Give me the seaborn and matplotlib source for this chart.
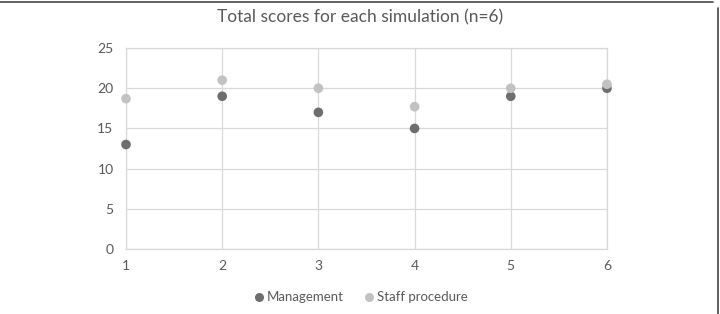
import pandas as pd
import matplotlib
matplotlib.use("Agg")
import matplotlib.pyplot as plt
from matplotlib.lines import Line2D
import seaborn as sns

# Data
simulation = [1, 2, 3, 4, 5, 6]
management = [13, 19, 17, 15, 19, 20]
staff_procedure = [18.7, 21, 20, 17.7, 20, 20.5]

df = pd.DataFrame({
    "Simulation": simulation * 2,
    "Score": management + staff_procedure,
    "Group": ["Management"] * len(simulation) + ["Staff procedure"] * len(simulation),
})

sns.set_style("white")
plt.rcParams["font.family"] = ["Lato", "DejaVu Sans"]

text_col = "#595959"
grid_col = "#d9d9d9"

fig = plt.figure(figsize=(7.2, 3.14), dpi=100)
ax = fig.add_axes([0.175, 0.207, 0.668, 0.640])

sns.scatterplot(data=df, x="Simulation", y="Score", hue="Group",
                palette={"Management": "#6e6e6e", "Staff procedure": "#c2c2c2"},
                s=48, edgecolor="none", ax=ax, zorder=3, legend=False)

ax.set_xlim(1, 6)
ax.set_ylim(0, 25)
ax.set_xticks(simulation)
ax.set_yticks([0, 5, 10, 15, 20, 25])
ax.grid(True, color=grid_col, linewidth=0.9)
ax.set_axisbelow(True)
for sp in ax.spines.values():
    sp.set_color(grid_col)
    sp.set_linewidth(0.9)
ax.tick_params(axis="both", length=0, labelsize=10, colors=text_col)
ax.tick_params(axis="y", pad=9)
ax.tick_params(axis="x", pad=8)
ax.set_xlabel("")
ax.set_ylabel("")
for t in ax.collections:
    t.set_clip_on(False)

fig.text(0.5, 0.946, "Total scores for each simulation (n=6)", ha="center", va="center",
         fontsize=12.5, color=text_col)

handles = [
    Line2D([], [], marker="o", linestyle="none", markersize=6.5, color="#6e6e6e", markeredgewidth=0),
    Line2D([], [], marker="o", linestyle="none", markersize=6.5, color="#c2c2c2", markeredgewidth=0),
]
fig.legend(handles, ["Management", "Staff procedure"], loc="center", bbox_to_anchor=(0.5, 0.053),
           ncol=2, frameon=False, fontsize=9.5, labelcolor=text_col, handletextpad=0.1,
           columnspacing=1.4, handlelength=1.0)

# page frame
fig.add_artist(Line2D([0, 0.99], [0.995, 0.995], transform=fig.transFigure, color="#444444", lw=1.2))
fig.add_artist(Line2D([0.997, 0.997], [0, 0.975], transform=fig.transFigure, color="#444444", lw=1.2))

fig.savefig("out.png", dpi=100)
